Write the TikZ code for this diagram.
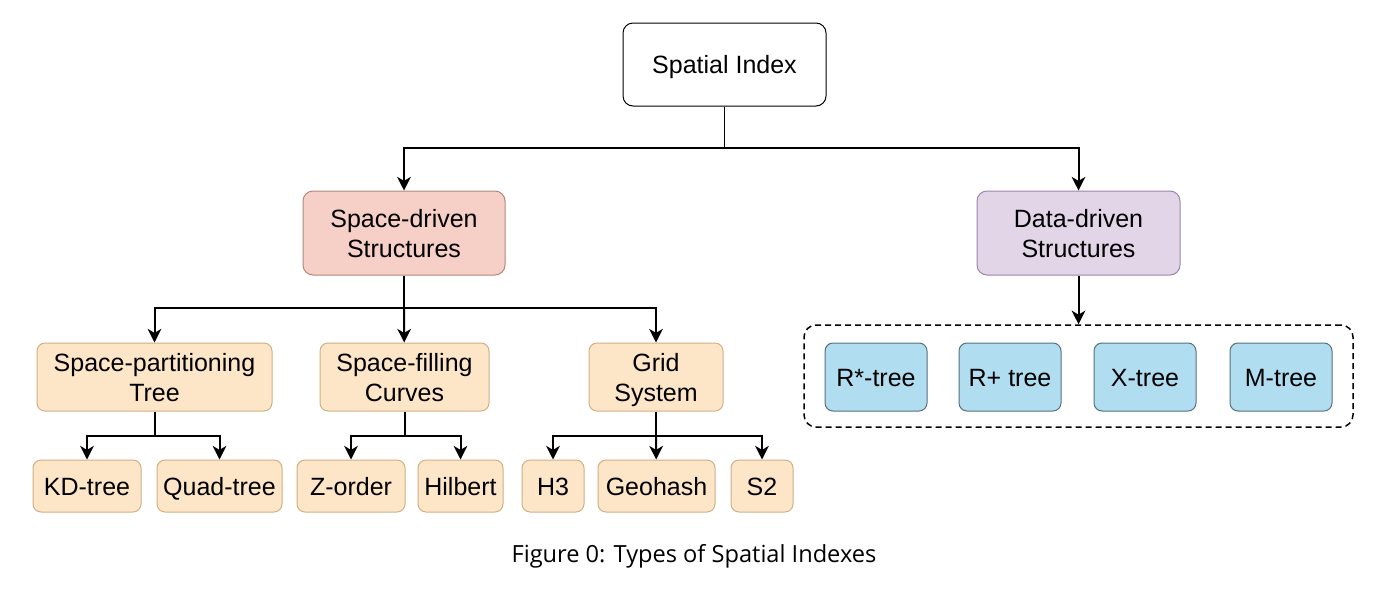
\documentclass[tikz,border=0pt]{standalone}
\usepackage{fontspec}
\setmainfont{Liberation Sans}
\newfontfamily\captionfont{Open Sans}
\usetikzlibrary{arrows.meta}

\definecolor{redfill}{HTML}{F6CFC6}
\definecolor{redline}{HTML}{B4887A}
\definecolor{orangefill}{HTML}{FDE6C8}
\definecolor{orangeline}{HTML}{D2AE82}
\definecolor{purplefill}{HTML}{E1D5E7}
\definecolor{purpleline}{HTML}{9C86A8}
\definecolor{bluefill}{HTML}{B1DDF0}
\definecolor{blueline}{HTML}{56707C}

% height 12.2pt, depth 3.2pt
\newcommand\boxstrut{\rule[-3.2pt]{0pt}{15.4pt}}

\tikzset{
  box/.style={draw, line width=0.5pt, rounded corners=4pt, inner sep=0pt, align=center,
    font=\fontsize{12.5}{15}\selectfont,
    execute at begin node={\boxstrut}, execute at end node={\boxstrut}},
  rootbox/.style={box, fill=white, draw=black, rounded corners=5pt},
  spacebox/.style={box, fill=redfill, draw=redline, rounded corners=5pt},
  databox/.style={box, fill=purplefill, draw=purpleline, rounded corners=5pt},
  kindbox/.style={box, fill=orangefill, draw=orangeline},
  leafbox/.style={box, fill=orangefill, draw=orangeline, minimum height=26pt},
  rtreebox/.style={box, fill=bluefill, draw=blueline, minimum width=51pt, minimum height=34pt},
  link/.style={line width=1pt},
  arrow/.style={link, -{Stealth[length=6.8pt,width=6.8pt,inset=2pt]}}
}

\begin{document}
\begin{tikzpicture}[x=0.5pt,y=-0.5pt]

  \useasboundingbox (0,0) rectangle (1400,595);

  % top
  \node[rootbox, minimum width=101.5pt, minimum height=41.5pt] (spatial) at (724.5,64.5) {Spatial Index};

  \node[spacebox, minimum width=101pt, minimum height=42pt] (spacedriven) at (404,233) {\boxstrut Space-driven\\Structures};
  \node[databox, minimum width=101.5pt, minimum height=42pt] (datadriven) at (1078.5,233) {\boxstrut Data-driven\\Structures};

  \coordinate (split) at (724.5,148);
  \draw[line width=0.5pt] (spatial) -- (split);
  \draw[arrow] (split) -| (spacedriven);
  \draw[arrow] (split) -| (datadriven);

  % space-driven branch
  \node[kindbox, minimum width=117.5pt, minimum height=34pt] (partition) at (154.5,377) {\boxstrut Space-partitioning\\Tree};
  \node[kindbox, minimum width=84.5pt, minimum height=34pt] (filling) at (404.5,377) {\boxstrut Space-filling\\Curves};
  \node[kindbox, minimum width=67pt, minimum height=34pt] (grid) at (656,377) {\boxstrut Grid\\System};

  \coordinate (splitspace) at (404,308);
  \draw[link] (spacedriven) -- (splitspace);
  \draw[arrow] (splitspace) -| (partition);
  \draw[arrow] (splitspace) -- (filling);
  \draw[arrow] (splitspace) -| (grid);

  % leaves
  \node[leafbox, minimum width=54pt] (kdtree) at (87,486) {KD-tree};
  \node[leafbox, minimum width=62.5pt] (quadtree) at (219.5,486) {Quad-tree};
  \node[leafbox, minimum width=54pt] (zorder) at (351,486) {Z-order};
  \node[leafbox, minimum width=42.5pt] (hilbert) at (460.5,486) {Hilbert};
  \node[leafbox, minimum width=31pt] (hthree) at (553,486) {H3};
  \node[leafbox, minimum width=58.5pt] (geohash) at (656.5,486) {Geohash};
  \node[leafbox, minimum width=31pt] (stwo) at (762,486) {S2};

  \coordinate (splitpart) at (154.5,436);
  \draw[link] (partition) -- (splitpart);
  \draw[arrow] (splitpart) -| (kdtree);
  \draw[arrow] (splitpart) -| (quadtree);

  \coordinate (splitfill) at (404.5,436);
  \draw[link] (filling) -- (splitfill);
  \draw[arrow] (splitfill) -| (zorder);
  \draw[arrow] (splitfill) -| (hilbert);

  \coordinate (splitgrid) at (656,436);
  \draw[link] (grid) -- (splitgrid);
  \draw[arrow] (splitgrid) -| (hthree);
  \draw[arrow] (splitgrid) -- (geohash);
  \draw[arrow] (splitgrid) -| (stwo);

  % data-driven branch
  \node[draw, line width=0.75pt, dash pattern=on 3pt off 2pt, rounded corners=6pt,
    minimum width=274.5pt, minimum height=51pt] (rtrees) at (1078.5,376) {};
  \draw[arrow] (datadriven) -- (rtrees);

  \node[rtreebox] (rstar) at (876,377) {R*-tree};
  \node[rtreebox] (rplus) at (1010,377) {R+ tree};
  \node[rtreebox] (xtree) at (1145,377) {X-tree};
  \node[rtreebox] (mtree) at (1281,377) {M-tree};

  % caption
  \node[font=\captionfont\fontsize{11.8}{14}\selectfont] (caption) at (694,556) {Figure 0: Types of Spatial Indexes};

\end{tikzpicture}
\end{document}
